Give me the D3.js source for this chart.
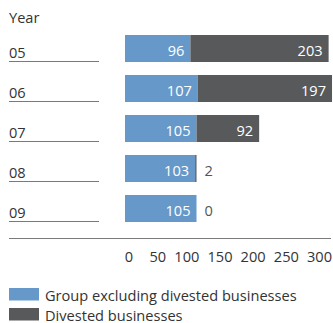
<!DOCTYPE html>
<html>
<head>
<meta charset="utf-8">
<script src="https://cdn.jsdelivr.net/npm/d3@7"></script>
<style>
  html, body { margin: 0; padding: 0; background: #fff; }
  svg { display: block; font-family: "Open Sans", "Noto Sans", sans-serif; }
</style>
</head>
<body>
<svg id="chart" width="333" height="323"></svg>
<script>
// Years shown on the rows
const years = ["05", "06", "07", "08", "09"];
// Group excluding divested businesses
const groupValues = [96, 107, 105, 103, 105];
// Divested businesses
const divestedValues = [203, 197, 92, 2, 0];
// Value axis tick labels
const tickValues = [0, 50, 100, 150, 200, 250, 300];
const seriesNames = ["Group excluding divested businesses", "Divested businesses"];

const colors = ["#6699c9", "#58595b"];
const textColor = "#333333";
const lineColor = "#7a7a7a";
const fontSize = 14.6;

const svg = d3.select("#chart");

const x = d3.scaleLinear().domain([0, 300]).range([125, 329.3]);
const y = d3.scaleBand().domain(years).range([28.5, 228.5]).paddingInner(0.325).paddingOuter(0.1625);

// Tick label placement along the bottom
const xt = d3.scaleLinear().domain([0, 300]).range([132.5, 331.5]);

const rows = years.map((yr, i) => ({ year: yr, g: groupValues[i], d: divestedValues[i] }));

// Header
svg.append("text")
  .attr("x", 9).attr("y", 22.5)
  .attr("fill", textColor).attr("font-size", fontSize)
  .text("Year");

// Row labels with underline
const rowG = svg.selectAll("g.row").data(rows).join("g").attr("class", "row");

rowG.append("text")
  .attr("x", 9)
  .attr("y", d => y(d.year) + 23)
  .attr("fill", textColor).attr("font-size", fontSize)
  .text(d => d.year);

rowG.append("line")
  .attr("x1", 9).attr("x2", 99)
  .attr("y1", d => y(d.year) + 26.5).attr("y2", d => y(d.year) + 26.5)
  .attr("stroke", lineColor).attr("stroke-width", 1);

// Group bars
rowG.append("rect")
  .attr("x", x(0))
  .attr("y", d => y(d.year))
  .attr("width", d => x(d.g) - x(0))
  .attr("height", y.bandwidth())
  .attr("fill", colors[0]);

// Divested bars stacked after the group bars
rowG.append("rect")
  .attr("x", d => x(d.g))
  .attr("y", d => y(d.year))
  .attr("width", d => x(d.g + d.d) - x(d.g))
  .attr("height", y.bandwidth())
  .attr("fill", colors[1]);

// Value labels inside group bars
rowG.append("text")
  .attr("x", d => x(d.g) - 6)
  .attr("y", d => y(d.year) + 20.5)
  .attr("text-anchor", "end")
  .attr("fill", "#ffffff").attr("font-size", fontSize)
  .text(d => d.g);

// Divested value labels: inside when wide enough, otherwise after the bar
const fitsInside = d => x(d.g + d.d) - x(d.g) > 30;
rowG.append("text")
  .attr("x", d => fitsInside(d) ? x(d.g + d.d) - 6 : x(d.g + d.d) + 8)
  .attr("y", d => y(d.year) + 20.5)
  .attr("text-anchor", d => fitsInside(d) ? "end" : "start")
  .attr("fill", d => fitsInside(d) ? "#ffffff" : "#555555")
  .attr("font-size", fontSize)
  .text(d => d.d);

// Baseline rule
svg.append("line")
  .attr("x1", 9).attr("x2", 331)
  .attr("y1", 238.5).attr("y2", 238.5)
  .attr("stroke", lineColor).attr("stroke-width", 1);

// Tick labels
const axis = d3.axisBottom(xt).tickValues(tickValues).tickSize(0).tickPadding(0);
const axisG = svg.append("g").attr("transform", "translate(0,250)").call(axis);
axisG.select(".domain").remove();
axisG.selectAll("text")
  .attr("text-anchor", "end")
  .attr("dy", null)
  .attr("y", 12)
  .attr("fill", textColor)
  .attr("font-size", fontSize)
  .attr("font-family", "\"Open Sans\", \"Noto Sans\", sans-serif");

// Legend
const legend = svg.selectAll("g.legend").data(seriesNames).join("g")
  .attr("class", "legend")
  .attr("transform", (d, i) => `translate(9, ${288 + i * 20})`);
legend.append("rect")
  .attr("width", 30).attr("height", 12.5)
  .attr("fill", (d, i) => colors[i]);
legend.append("text")
  .attr("x", 36).attr("y", 12.5)
  .attr("fill", textColor).attr("font-size", fontSize)
  .text(d => d);
</script>
</body>
</html>
